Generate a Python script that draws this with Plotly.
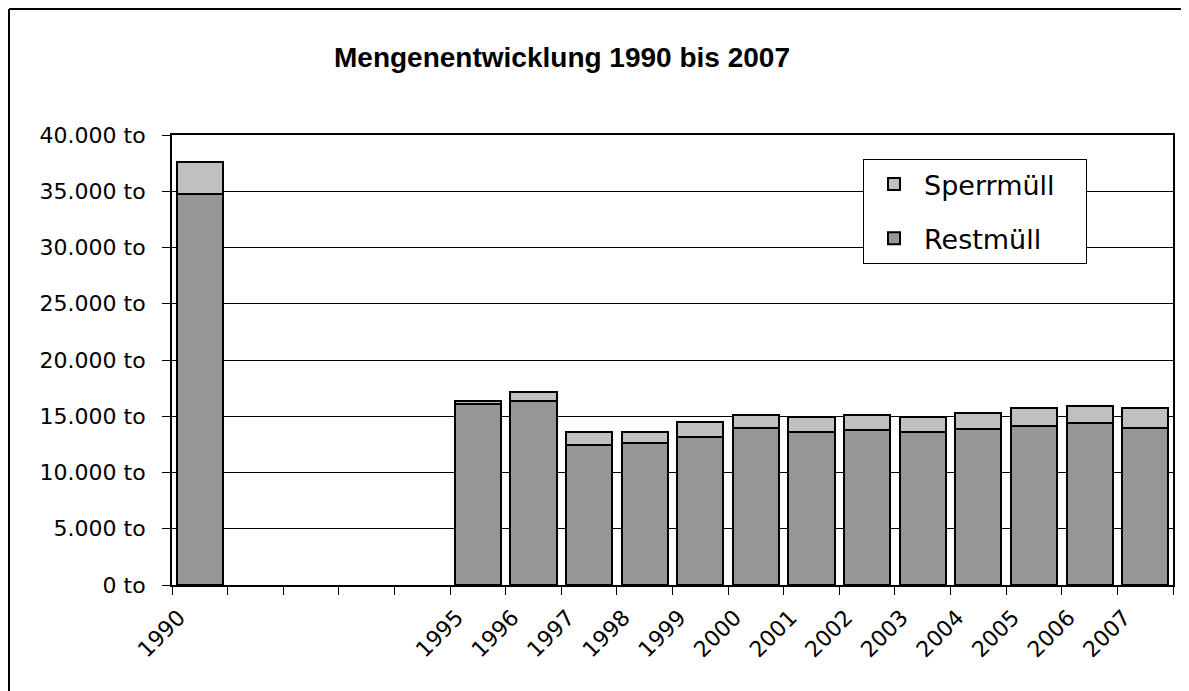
import plotly.graph_objects as go

# Mengen in Tonnen, 1991-1994 ohne Daten
jahre = [str(j) for j in range(1990, 2008)]
jahr_labels = ["1990", "", "", "", "", "1995", "1996", "1997", "1998", "1999",
               "2000", "2001", "2002", "2003", "2004", "2005", "2006", "2007"]
restmuell = [34800, None, None, None, None, 16060, 16360, 12440, 12590, 13190,
             13950, 13600, 13780, 13570, 13840, 14130, 14370, 13980]
sperrmuell = [2800, None, None, None, None, 340, 820, 1130, 980, 1270,
              1150, 1330, 1320, 1330, 1420, 1600, 1540, 1720]

# the page body adds 8px margin, so the figure is a little smaller
OFF = 8
W, H = 1189 - OFF, 691 - OFF
L, T = 172 - OFF, 135 - OFF
R = W - (1173 - OFF)
B = H - (585 - OFF)
pw, ph = W - L - R, H - T - B

pad = "&nbsp;" * 3  # extra room on the right of the legend text

fig = go.Figure()
fig.add_trace(go.Bar(x=jahre, y=restmuell, name="Restmüll" + pad, legendgroup="r",
                     legendrank=2,
                     marker=dict(color="#969696", line=dict(color="black", width=2))))
fig.add_trace(go.Bar(x=jahre, y=sperrmuell, name="Sperrmüll" + pad, legendgroup="s",
                     legendrank=1,
                     marker=dict(color="#c0c0c0", line=dict(color="black", width=2))))

fig.update_layout(
    width=W, height=H,
    margin=dict(l=L, r=R, t=T, b=B, autoexpand=False),
    barmode="stack", bargap=0.17,
    plot_bgcolor="white", paper_bgcolor="white",
    separators=",.",
    font=dict(family="DejaVu Sans", size=22, color="black"),
    title=dict(text="<b>Mengenentwicklung 1990 bis 2007</b>", x=(562 - OFF) / W, xanchor="center",
               y=1 - (57 - OFF) / H, yanchor="middle", yref="container",
               font=dict(family="Liberation Sans", size=28, color="black")),
    legend=dict(x=(863 - 172) / pw, y=(585 - 159) / ph, xanchor="left", yanchor="top",
                bgcolor="white", bordercolor="black", borderwidth=1,
                font=dict(family="DejaVu Sans", size=27), tracegroupgap=16,
                itemwidth=50, traceorder="grouped"),
    showlegend=True,
)
fig.update_xaxes(type="category", categoryorder="array", categoryarray=jahre,
                 tickmode="array", tickvals=jahre, ticktext=jahr_labels,
                 tickangle=-45, tickson="boundaries", ticks="outside", ticklen=8,
                 tickcolor="black", showgrid=False, showline=True, linecolor="black",
                 linewidth=2, mirror=True, ticklabelshift=-21, ticklabelstandoff=9,
                 tickfont=dict(family="DejaVu Sans", size=22))
fig.update_yaxes(range=[0, 40000], dtick=5000, tickformat=",d", ticksuffix=" to",
                 ticks="outside", ticklen=8, tickcolor="black", showgrid=True,
                 gridcolor="black", gridwidth=1, showline=True, linecolor="black",
                 linewidth=2, mirror=True, zeroline=False, ticklabelstandoff=12,
                 tickfont=dict(family="DejaVu Sans", size=22))

# outer chart frame (left and top edges visible)
x0 = (1 - L) / pw
y0 = (ph + T - 1) / ph
fig.add_shape(type="line", xref="paper", yref="paper", x0=x0, x1=x0, y0=y0, y1=-2,
              line=dict(color="black", width=2))
fig.add_shape(type="line", xref="paper", yref="paper", x0=x0, x1=2, y0=y0, y1=y0,
              line=dict(color="black", width=2))

fig.write_html("out.html")
